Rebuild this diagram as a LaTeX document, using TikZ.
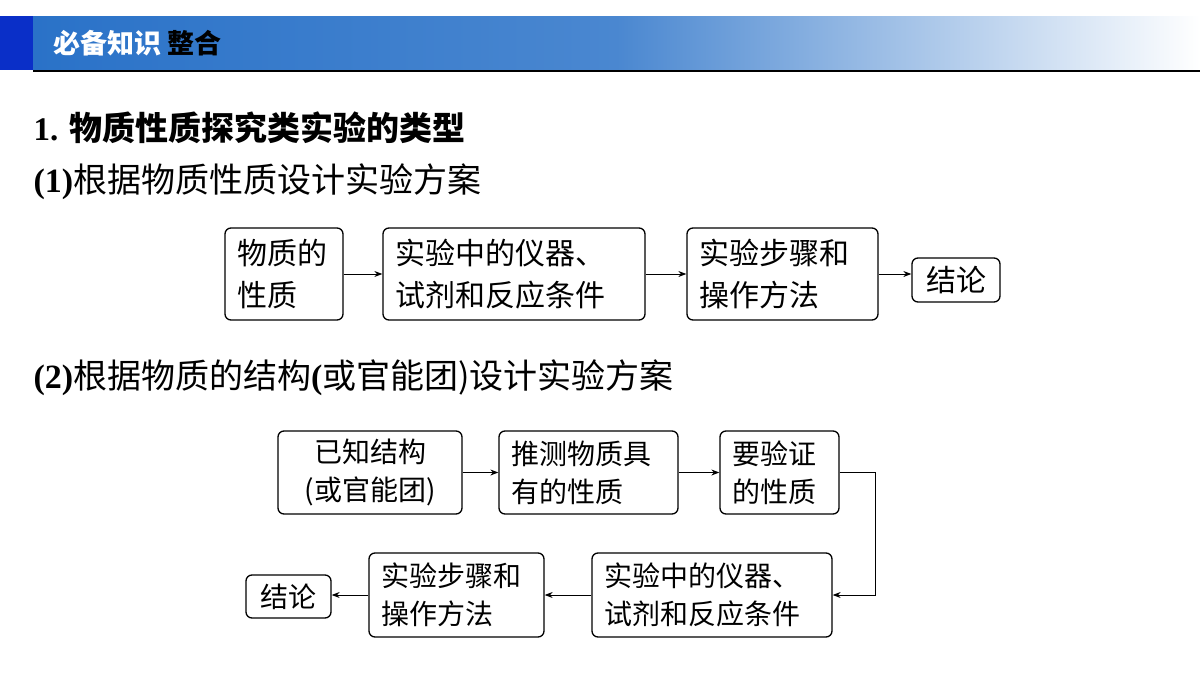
\documentclass[tikz,border=0pt]{standalone}
\usepackage{fontspec}
\setmainfont{Liberation Serif}
\newfontfamily\cjk{Noto Sans CJK SC}
\usetikzlibrary{positioning,arrows.meta}
\definecolor{barblue}{HTML}{2A72C8}
\definecolor{darkblue}{HTML}{0A2FC8}
\tikzset{
  stepbox/.style={draw,rounded corners=6pt,line width=1.3pt,align=left,inner xsep=12pt,inner ysep=0pt,
    font=\cjk\fontsize{30}{42}\selectfont},
  flow/.style={-{Stealth[length=8pt,width=6pt]},line width=1pt}
}
\begin{document}
\begin{tikzpicture}[x=1pt,y=-1pt]
	\useasboundingbox (0,0) rectangle (1200,675);
	%header bar
	\fill[darkblue] (0,16) rectangle (33,70);
	\shade[left color=barblue,right color=white,middle color=barblue!85] (33,16) rectangle (1200,70);
	\draw[line width=1.5pt] (33,71) -- (1200,71);
	\node[anchor=west,font=\cjk\bfseries\fontsize{27}{27}\selectfont] (title) at (50,43)
	  {\textcolor{white}{必备知识} 整合};

	%headings
	\node[anchor=west,font=\fontsize{33}{33}\selectfont\bfseries] (h1) at (30,128) {1. {\cjk 物质性质探究类实验的类型}};
	\node[anchor=west,font=\fontsize{34}{34}\selectfont\bfseries] (h2) at (30,182) {(1){\cjk\mdseries 根据物质性质设计实验方案}};
	\node[anchor=west,font=\fontsize{34}{34}\selectfont\bfseries] (h3) at (30,378) {(2){\cjk\mdseries 根据物质的结构}(\cjk\mdseries 或官能团)\cjk\mdseries 设计实验方案};

	%flow 1
	\node[stepbox,text width=94pt,minimum height=92pt] (a1) at (284,274) {物质的\\性质};
	\node[stepbox,text width=238pt,minimum height=92pt] (a2) at (514,274) {实验中的仪器、\\试剂和反应条件};
	\node[stepbox,text width=167pt,minimum height=92pt] (a3) at (782.5,274) {实验步骤和\\操作方法};
	\node[stepbox,inner xsep=0pt,minimum width=88pt,minimum height=44pt] (a4) at (956,280) {结论};
	\draw[flow] (a1) -- (a2);
	\draw[flow] (a2) -- (a3);
	\draw[flow] (a3.east) -- (a4.west |- a3.east);

	%flow 2
	\begin{scope}[stepbox/.append style={font=\cjk\fontsize{28}{38}\selectfont}]
	\node[stepbox,text width=160pt,minimum height=83pt,align=center] (b1) at (370,472.5) {已知结构\\(或官能团)};
	\node[stepbox,text width=155pt,minimum height=83pt] (b2) at (588.5,472.5) {推测物质具\\有的性质};
	\node[stepbox,text width=95pt,minimum height=83pt] (b3) at (779.5,472.5) {要验证\\的性质};
	\node[stepbox,text width=216pt,minimum height=84pt] (b4) at (712,595) {实验中的仪器、\\试剂和反应条件};
	\node[stepbox,text width=151pt,minimum height=84pt] (b5) at (456.5,595) {实验步骤和\\操作方法};
	\node[stepbox,inner xsep=0pt,minimum width=85pt,minimum height=43pt] (b6) at (288.5,596.5) {结论};
	\end{scope}
	\coordinate (turn) at (875,472.5);
	\draw[flow] (b1) -- (b2);
	\draw[flow] (b2) -- (b3);
	\draw[flow] (b3.east) -- (turn) |- (b4.east);
	\draw[flow] (b4.west) -- (b5.east |- b4.west);
	\draw[flow] (b5.west) -- (b6.east |- b5.west);
\end{tikzpicture}
\end{document}
